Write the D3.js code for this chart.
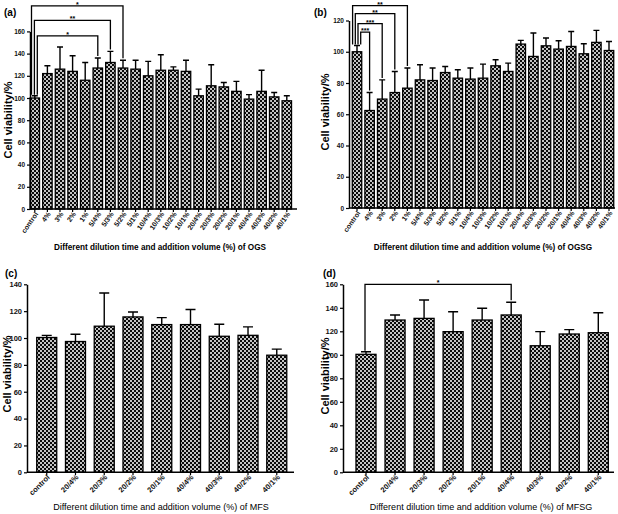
<!DOCTYPE html>
<html><head><meta charset="utf-8">
<script src="https://cdn.jsdelivr.net/npm/d3@7"></script>
<style>body{margin:0;background:#fff}svg{display:block;font-family:"Liberation Sans",Arial,sans-serif}</style>
</head><body><svg id="chart" width="618" height="514"></svg>
<script>
// ---------- data ----------
const catsA = ["control","4%","3%","2%","1%","5/4%","5/3%","5/2%","5/1%","10/4%","10/3%","10/2%","10/1%","20/4%","20/3%","20/2%","20/1%","40/4%","40/3%","40/2%","40/1%"];
const valsA = [100,122,126,124,116,127,132,127,126,120,125,125,124,102,111,110,106,99,106,101,97.5];
const errA  = [2,7,20,14,16,9,10,7,8,13,14,3,10,6,19,4,9,4,19,4,4.5];
const ticksA = [0,20,40,60,80,100,120,140,160];
const sigA = [
  {from:"control", to:"5/4%", level:156, label:"*"},
  {from:"control", to:"5/3%", level:170, label:"**"},
  {from:"control", to:"5/2%", level:183, label:"*"}
];

const catsB = ["control","4%","3%","2%","1%","5/4%","5/3%","5/2%","5/1%","10/4%","10/3%","10/2%","10/1%","20/4%","20/3%","20/2%","20/1%","40/4%","40/3%","40/2%","40/1%"];
const valsB = [100,62.4,69.7,73.9,76.7,82,81.6,86.7,83.1,82.5,83.1,91,87.4,104.9,97,103.8,101.7,103.4,98.7,106,100.8];
const errB  = [4,11.5,12.3,13.5,12.9,9.7,8,3.9,5.4,7.1,9,3.9,5.3,2.4,15,5,5.3,9.6,6.4,7.7,5.8];
const ticksB = [0,20,40,60,80,100,120];
const sigB = [
  {from:"control", to:"4%", level:112.6, label:"***"},
  {from:"control", to:"3%", level:118, label:"***"},
  {from:"control", to:"2%", level:124.4, label:"**"},
  {from:"control", to:"1%", level:129.5, label:"**"}
];

const catsC = ["control","20/4%","20/3%","20/2%","20/1%","40/4%","40/3%","40/2%","40/1%"];
const valsC = [100.4,97.4,108.8,115.7,110,110,101.3,102,87.2];
const errC  = [1.6,5.4,24.7,3.7,5.2,11.2,9,6.3,4.5];
const ticksC = [0,20,40,60,80,100,120,140];
const sigC = [];

const catsD = ["control","20/4%","20/3%","20/2%","20/1%","40/4%","40/3%","40/2%","40/1%"];
const valsD = [100.4,129.6,131,119.7,129.6,133.9,107.7,117.7,118.8];
const errD  = [2.2,4.3,15.6,17,10,10.8,12,3.7,17];
const ticksD = [0,20,40,60,80,100,120,140,160];
const sigD = [
  {from:"control", to:"40/4%", level:160, label:"*"}
];

const yTitle = "Cell viability/%";
const xTitleA = "Different dilution time and addition volume (%) of OGS";
const xTitleB = "Different dilution time and addition volume (%) of OGSG";
const xTitleC = "Different dilution time and addition volume (%) of MFS";
const xTitleD = "Different dilution time and addition volume (%) of MFSG";

// ---------- layout ----------
const panels = [
  {tag:"(a)", cats:catsA, vals:valsA, errs:errA, ticks:ticksA, sig:sigA, xt:xTitleA,
   lx:4, ly:16, ax:30, axEnd:297, y0:209, yTop:31.4, yMax:160, band:[28.5,293.1], pi:0.25, po:0.125,
   tickFont:6.5, xFont:7, rot:-55, cap:6, xtFont:8.2, xtWeight:"bold", xtX:160, xtY:250, ytX:12, ytY:120, legStart:2.5, legStep:2.9},
  {tag:"(b)", cats:catsB, vals:valsB, errs:errB, ticks:ticksB, sig:sigB, xt:xTitleB,
   lx:314, ly:16, ax:349, axEnd:615, y0:208, yTop:20.5, yMax:120, band:[350.7,615.3], pi:0.25, po:0.125,
   tickFont:6.5, xFont:7, rot:-55, cap:6, xtFont:8.2, xtWeight:"bold", xtX:483, xtY:250, ytX:329, ytY:112, legStart:3.7, legStep:2.7},
  {tag:"(c)", cats:catsC, vals:valsC, errs:errC, ticks:ticksC, sig:sigC, xt:xTitleC,
   lx:5, ly:277, ax:27, axEnd:294, y0:472.3, yTop:284.3, yMax:140, band:[28.1,295.4], pi:0.304, po:0.3,
   tickFont:7.5, xFont:7.5, rot:-45, cap:10, xtFont:9, xtWeight:"normal", xtX:161, xtY:510, ytX:11, ytY:374, legStart:0, legStep:0},
  {tag:"(d)", cats:catsD, vals:valsD, errs:errD, ticks:ticksD, sig:sigD, xt:xTitleD,
   lx:323, ly:277, ax:343, axEnd:614, y0:472.3, yTop:284.3, yMax:160, band:[343.5,620.8], pi:0.31, po:0.43,
   tickFont:7.5, xFont:7.5, rot:-45, cap:10, xtFont:9, xtWeight:"normal", xtX:481, xtY:510, ytX:329, ytY:376, legStart:-1, legStep:0}
];

const svg = d3.select("#chart");
const defs = svg.append("defs");
const pat = defs.append("pattern").attr("id","checker").attr("patternUnits","userSpaceOnUse")
  .attr("width",4).attr("height",4);
pat.append("rect").attr("width",4).attr("height",4).attr("fill","#c4c4c4");
pat.append("rect").attr("x",0).attr("y",0).attr("width",2).attr("height",2).attr("fill","#0a0a0a");
pat.append("rect").attr("x",2).attr("y",2).attr("width",2).attr("height",2).attr("fill","#0a0a0a");

panels.forEach(p => {
  const g = svg.append("g");
  const x = d3.scaleBand().domain(p.cats).range(p.band).paddingInner(p.pi).paddingOuter(p.po);
  const y = d3.scaleLinear().domain([0, p.yMax]).range([p.y0, p.yTop]);
  const bw = x.bandwidth();
  const cx = c => x(c) + bw / 2;
  const rows = p.cats.map((c, i) => ({c, v: p.vals[i], e: p.errs[i]}));

  // bars
  g.selectAll("rect.bar").data(rows).join("rect").attr("class","bar")
    .attr("x", d => x(d.c)).attr("width", bw)
    .attr("y", d => y(d.v)).attr("height", d => p.y0 - y(d.v))
    .attr("fill","url(#checker)").attr("stroke","#000").attr("stroke-width",1.3);

  // error bars
  g.selectAll("path.err").data(rows).join("path").attr("class","err")
    .attr("d", d => `M${cx(d.c)},${y(d.v)}V${y(d.v + d.e)}M${cx(d.c) - p.cap/2},${y(d.v + d.e)}H${cx(d.c) + p.cap/2}`)
    .attr("stroke","#000").attr("stroke-width",1.4).attr("fill","none");

  // y axis
  const ya = g.append("g").attr("transform",`translate(${p.ax},0)`)
    .call(d3.axisLeft(y).tickValues(p.ticks).tickSize(3).tickSizeOuter(0).tickPadding(2));
  ya.select(".domain").attr("stroke-width",1.5);
  ya.selectAll(".tick line").attr("stroke-width",1.2);
  ya.selectAll("text").attr("font-size",p.tickFont).attr("font-weight","bold").attr("font-family","Liberation Sans, Arial, sans-serif").attr("fill","#111");

  // x axis
  const xa = g.append("g").attr("transform",`translate(0,${p.y0})`)
    .call(d3.axisBottom(x).tickSize(3).tickSizeOuter(0).tickPadding(3));
  xa.select(".domain").remove();
  xa.selectAll(".tick line").attr("stroke-width",1.2);
  xa.selectAll("text").attr("font-size",p.xFont).attr("font-weight","bold")
    .attr("font-family","Liberation Sans, Arial, sans-serif").attr("fill","#111")
    .attr("text-anchor","end").attr("dy","0.3em")
    .attr("transform",`translate(2,4) rotate(${p.rot})`).attr("y",0);
  g.append("line").attr("x1",p.ax).attr("x2",p.axEnd).attr("y1",p.y0).attr("y2",p.y0)
    .attr("stroke","#000").attr("stroke-width",1.5);

  // significance brackets
  const vOf = c => { const i = p.cats.indexOf(c); return p.vals[i] + p.errs[i]; };
  p.sig.forEach((s, k) => {
    const lx = cx(s.from) + p.legStart - k * p.legStep;
    const rx = cx(s.to);
    const ly = y(s.level);
    g.append("path")
      .attr("d", `M${lx},${y(vOf(s.from)) - 1}V${ly}H${rx}V${y(vOf(s.to)) - 2}`)
      .attr("stroke","#000").attr("stroke-width",1.3).attr("fill","none");
    g.append("text").attr("x",(lx + rx) / 2).attr("y", ly + 1)
      .attr("text-anchor","middle").attr("font-size",7).attr("font-weight","bold").text(s.label);
  });

  // titles
  g.append("text").attr("x",p.lx).attr("y",p.ly).attr("font-size",10).attr("font-weight","bold").text(p.tag);
  g.append("text").attr("transform",`translate(${p.ytX},${p.ytY}) rotate(-90)`)
    .attr("text-anchor","middle").attr("font-size",11).attr("font-weight","bold").text(yTitle);
  g.append("text").attr("x",p.xtX).attr("y",p.xtY).attr("text-anchor","middle")
    .attr("font-size",p.xtFont).attr("font-weight",p.xtWeight).text(p.xt);
});
</script>
</body></html>
